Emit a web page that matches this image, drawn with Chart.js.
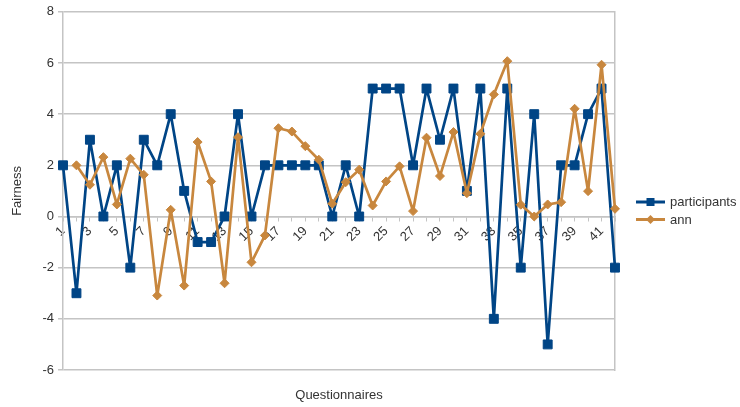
<!DOCTYPE html>
<html>
<head>
<meta charset="utf-8">
<title>Fairness by questionnaire</title>
<script src="https://cdn.jsdelivr.net/npm/chart.js@4/dist/chart.umd.min.js"></script>
<style>
  html, body { margin: 0; padding: 0; background: #ffffff; }
  #wrap { width: 740px; height: 407px; position: relative; }
</style>
</head>
<body>
<div id="wrap"><canvas id="chart"></canvas></div>
<script>
// Questionnaire numbers along the horizontal axis
const questionnaires = ['1','2','3','4','5','6','7','8','9','10','11','12','13','14','15','16','17','18','19','20',
  '21','22','23','24','25','26','27','28','29','30','31','32','33','34','35','36','37','38','39','40','41','42'];

// Fairness given by participants
const participants = [2, -3, 3, 0, 2, -2, 3, 2, 4, 1, -1, -1, 0, 4, 0, 2, 2, 2, 2, 2, 0,
  2, 0, 5, 5, 5, 2, 5, 3, 5, 1, 5, -4, 5, -2, 4, -5, 2, 2, 4, 5, -2];

// Fairness predicted by the network (no value for questionnaire 1)
const ann = [null, 2.0, 1.24, 2.32, 0.47, 2.26, 1.63, -3.09, 0.26, -2.70, 2.91, 1.37, -2.61, 3.10,
  -1.79, -0.74, 3.45, 3.32, 2.75, 2.22, 0.50, 1.34, 1.83, 0.43, 1.37, 1.96, 0.21, 3.08, 1.58,
  3.30, 0.91, 3.23, 4.77, 6.07, 0.46, 0.0, 0.47, 0.56, 4.21, 0.99, 5.93, 0.30];

// Value axis ticks
const fairnessTicks = [-6, -4, -2, 0, 2, 4, 6, 8];

const GRID = '#c4c4c4';
const TEXT = '#333333';
const BLUE = '#004586';
const ORANGE = '#c8873e';

Chart.defaults.font.family = '"Liberation Sans", Arial, sans-serif';
Chart.defaults.font.size = 13;
Chart.defaults.color = TEXT;

// Legend to the right of the plot: a short line with the series marker, then the name
const sideLegend = {
  id: 'sideLegend',
  afterDraw(chart) {
    const { ctx, chartArea } = chart;
    const x0 = chartArea.right + 21, x1 = chartArea.right + 50, xm = (x0 + x1) / 2;
    const rows = [202, 219.5];
    chart.data.datasets.forEach((ds, i) => {
      const y = rows[i];
      ctx.save();
      ctx.strokeStyle = ds.borderColor;
      ctx.lineWidth = 3;
      ctx.beginPath(); ctx.moveTo(x0, y); ctx.lineTo(x1, y); ctx.stroke();
      ctx.fillStyle = ds.borderColor;
      if (ds.pointStyle === 'rect') {
        ctx.fillRect(xm - 4, y - 4, 8, 8);
      } else {
        ctx.beginPath();
        ctx.moveTo(xm, y - 4.5); ctx.lineTo(xm + 4.5, y); ctx.lineTo(xm, y + 4.5); ctx.lineTo(xm - 4.5, y);
        ctx.closePath(); ctx.fill();
      }
      ctx.fillStyle = TEXT;
      ctx.font = '13px "Liberation Sans", Arial, sans-serif';
      ctx.textBaseline = 'middle';
      ctx.textAlign = 'left';
      ctx.fillText(ds.label, x1 + 5, y + 0.5);
      ctx.restore();
    });
  }
};

new Chart(document.getElementById('chart'), {
  type: 'line',
  data: {
    labels: questionnaires,
    datasets: [
      {
        label: 'participants',
        data: participants,
        borderColor: BLUE,
        backgroundColor: BLUE,
        borderWidth: 2.7,
        borderJoinStyle: 'round',
        pointStyle: 'rect',
        pointRadius: 6.3,
        pointBorderWidth: 1,
        pointBackgroundColor: BLUE,
        pointBorderColor: BLUE,
        tension: 0,
        order: 1
      },
      {
        label: 'ann',
        data: ann,
        borderColor: ORANGE,
        backgroundColor: ORANGE,
        borderWidth: 2.7,
        borderJoinStyle: 'round',
        pointStyle: 'rectRot',
        pointRadius: 4.5,
        pointBorderWidth: 1,
        pointBackgroundColor: ORANGE,
        pointBorderColor: ORANGE,
        tension: 0,
        order: 0
      }
    ]
  },
  options: {
    responsive: true,
    maintainAspectRatio: false,
    animation: false,
    devicePixelRatio: 1,
    layout: { padding: { top: 11.5, left: 0, right: 0, bottom: 0 } },
    plugins: {
      legend: { display: false },
      tooltip: { enabled: false }
    },
    scales: {
      x: {
        type: 'category',
        position: { y: 0 },
        offset: false,
        grid: { display: true, drawOnChartArea: false, drawTicks: true, tickLength: 4, color: GRID, lineWidth: 1 },
        border: { display: true, color: GRID, width: 1.5 },
        ticks: {
          autoSkip: false,
          minRotation: 45,
          maxRotation: 45,
          padding: 3,
          callback(value, index) { return index % 2 === 0 ? this.getLabelForValue(value) : ''; }
        }
      },
      xTitle: {
        type: 'category',
        position: 'bottom',
        labels: questionnaires,
        offset: false,
        grid: { display: false },
        border: { display: false },
        ticks: { display: false },
        title: { display: true, text: 'Questionnaires', padding: { top: 0, bottom: 4 } },
        afterFit(scale) { scale.height = 37; }
      },
      y: {
        min: -6,
        max: 8,
        afterBuildTicks(scale) { scale.ticks = fairnessTicks.map(v => ({ value: v })); },
        ticks: { padding: 4 },
        grid: { color: GRID, lineWidth: 1.5, tickLength: 5 },
        border: { display: true, color: GRID, width: 1.5 },
        title: { display: true, text: 'Fairness', padding: { top: 10, bottom: 0 } },
        afterFit(scale) { scale.width = 63; }
      },
      yFrame: {
        type: 'linear',
        position: 'right',
        grid: { display: false },
        ticks: { display: false },
        border: { display: true, color: GRID, width: 1.5 },
        afterFit(scale) { scale.width = 125; }
      }
    }
  },
  plugins: [sideLegend]
});
</script>
</body>
</html>
